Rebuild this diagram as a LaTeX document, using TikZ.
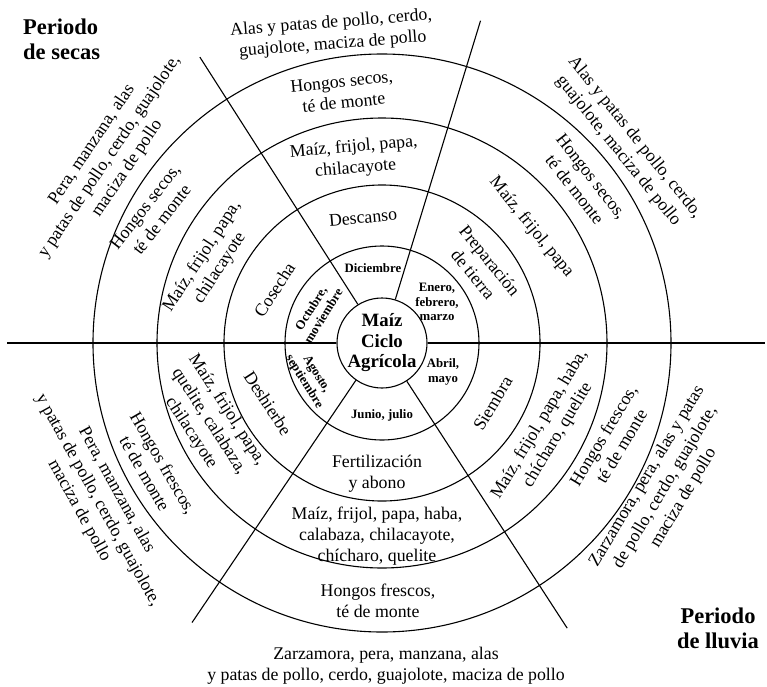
\documentclass[tikz,border=0pt]{standalone}
\usepackage{fontspec}
\setmainfont{Liberation Serif}
\usepackage{tikz}

\begin{document}
\begin{tikzpicture}[x=1pt,y=1pt,
    ring/.style={line width=1.1pt},
    lbl/.style={align=center,inner sep=0pt,font=\fontsize{17.8}{21.3}\selectfont},
    month/.style={align=center,inner sep=0pt,font=\bfseries\fontsize{12.8}{14.6}\selectfont},
    period/.style={align=center,inner sep=0pt,font=\bfseries\fontsize{22.5}{25}\selectfont}]
			\useasboundingbox (-382,-343) rectangle (385,343);
			% Rings of the calendar
			\node[draw,ring,circle,minimum size=86pt,inner sep=0pt,align=center,
			      font=\bfseries\fontsize{18.8}{20.5}\selectfont] (Hub) at (0,0) {Maíz\\Ciclo\\Agrícola};
			\draw[ring] (Hub.center) circle (97pt);
			\draw[ring] (Hub.center) circle (158pt);
			\draw[ring] (Hub.center) circle (225pt);
			\draw[ring] (Hub.center) circle (289pt);
			
			\draw[line width=2pt] (Hub.west) -- (-375,0);
			\draw[line width=2pt] (Hub.east) -- (383,0);
			\draw[ring] (Hub.73) -- (73:337);
			\draw[ring] (Hub.122.5) -- (122.5:339);
			\draw[ring] (Hub.235.8) -- (235.8:338);
			\draw[ring] (Hub.303) -- (303:340);
			
			% Descanso (top)
			\node[month] (Diciembre) at (97:75) {Diciembre};
			\node[lbl,rotate=5] (Descanso) at (98.6:127) {Descanso};
			\node[lbl,rotate=5] (MaizA) at (98.4:187) {Maíz, frijol, papa,\\chilacayote};
			\node[lbl,rotate=6] (HongosA) at (98.9:254) {Hongos secos,\\té de monte};
			\node[lbl,rotate=4.5] (AlasA) at (99.2:313) {Alas y patas de pollo, cerdo,\\guajolote, maciza de pollo};
			
			% Preparacion (upper right)
			\node[month] (Enero) at (55,41) {Enero,\\febrero,\\marzo};
			\node[lbl,rotate=-51] (Preparacion) at (37.2:125) {Preparación\\de tierra};
			\node[lbl,rotate=-51] (MaizB) at (37.8:189) {Maíz, frijol, papa};
			\node[lbl,rotate=-52] (HongosB) at (38.5:257) {Hongos secos,\\té de monte};
			\node[lbl,rotate=-51] (AlasB) at (39.1:315) {Alas y patas de pollo, cerdo,\\guajolote, maciza de pollo};
			
			% Cosecha (upper left)
			\node[month,rotate=58] (Octubre) at (154.5:72) {Octubre,\\moviembre};
			\node[lbl,rotate=57] (Cosecha) at (153.6:120) {Cosecha};
			\node[lbl,rotate=57] (MaizC) at (154.7:189) {Maíz, frijol, papa,\\chilacayote};
			\node[lbl,rotate=52] (HongosC) at (150.4:263) {Hongos secos,\\té de monte};
			\node[lbl,rotate=56] (PeraC) at (145.6:330) {Pera, manzana, alas\\y patas de pollo, cerdo, guajolote,\\maciza de pollo};
			
			% Deshierbe (lower left)
			\node[month,rotate=-58] (Agosto) at (206:80) {Agosto,\\septiembre};
			\node[lbl,rotate=-57] (Deshierbe) at (207.8:129) {Deshierbe};
			\node[lbl,rotate=-57] (MaizD) at (204.4:190) {Maíz, frijol, papa,\\quelite, calabaza,\\chilacayote};
			\node[lbl,rotate=-60] (HongosD) at (208.8:260) {Hongos frescos,\\té de monte};
			\node[lbl,rotate=-61] (PeraD) at (209:325) {Pera, manzana, alas\\y patas de pollo, cerdo, guajolote,\\maciza de pollo};
			
			% Fertilizacion (bottom)
			\node[month] (Junio) at (0,-72) {Junio, julio};
			\node[lbl] (Fertilizacion) at (-5,-131) {Fertilización\\y abono};
			\node[lbl] (MaizE) at (-5,-193) {Maíz, frijol, papa, haba,\\calabaza, chilacayote,\\chícharo, quelite};
			\node[lbl] (HongosE) at (-4,-258) {Hongos frescos,\\té de monte};
			\node[lbl] (ZarzamoraE) at (4,-323) {Zarzamora, pera, manzana, alas\\y patas de pollo, cerdo, guajolote, maciza de pollo};
			
			% Siembra (lower right)
			\node[month] (Abril) at (61,-29) {Abril,\\mayo};
			\node[lbl,rotate=59] (Siembra) at (-28.6:126) {Siembra};
			\node[lbl,rotate=59] (MaizF) at (-27.5:188) {Maíz, frijol, papa, haba,\\chícharo, quelite};
			\node[lbl,rotate=59] (HongosF) at (-23:250) {Hongos frescos,\\té de monte};
			\node[lbl,rotate=59] (ZarzamoraF) at (-27:318) {Zarzamora, pera, alas y patas\\de pollo, cerdo, guajolote,\\maciza de pollo};
			
			% Periodos
			\node[period,align=left,anchor=north west] (Secas) at (-359,324) {Periodo\\de secas};
			\node[period] (Lluvia) at (336,-285) {Periodo\\de lluvia};
			
			\end{tikzpicture}
\end{document}
